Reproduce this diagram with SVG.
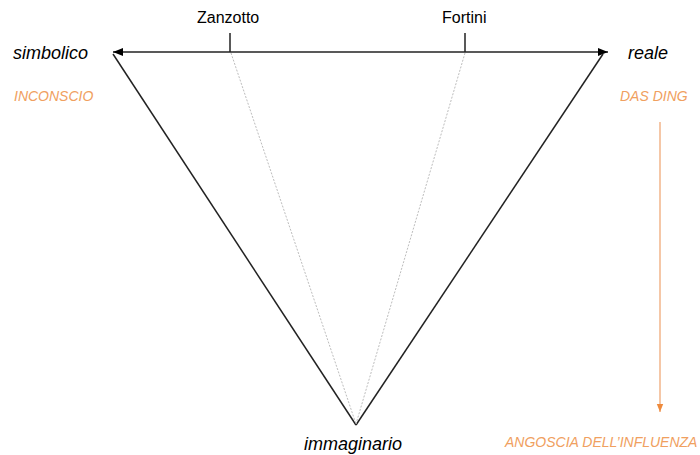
<svg xmlns="http://www.w3.org/2000/svg" width="700" height="455" viewBox="0 0 700 455">
<defs>
<marker id="ah" viewBox="0 0 10 10" refX="10" refY="5" markerWidth="10" markerHeight="10" markerUnits="userSpaceOnUse" orient="auto-start-reverse">
<path d="M0,1 L10,5 L0,9 z" fill="#000"/>
</marker>
<marker id="oh" viewBox="0 0 10 10" refX="10" refY="5" markerWidth="8" markerHeight="8" markerUnits="userSpaceOnUse" orient="auto">
<path d="M0,1 L10,5 L0,9 z" fill="#ee8a3c"/>
</marker>
</defs>
<style>
.lbl{font-family:"Liberation Sans",Arial,sans-serif;font-size:16px;fill:#000}
.it{font-family:"Liberation Sans",Arial,sans-serif;font-size:18px;font-style:italic;fill:#000}
.or{font-family:"Liberation Sans",Arial,sans-serif;font-size:14px;font-style:italic;fill:#f0a060}
.edge{stroke:#222;stroke-width:1.5;fill:none}
.dot{stroke:#bdbdbd;stroke-width:1;stroke-dasharray:2,1.5;fill:none}
</style>
<rect width="700" height="455" fill="#fff"/>
<g id="connectors">
<line class="edge" x1="113" y1="52" x2="608" y2="52" marker-start="url(#ah)" marker-end="url(#ah)"/>
<line class="edge" x1="230" y1="33" x2="230" y2="52"/>
<line class="edge" x1="465" y1="33" x2="465" y2="52"/>
<line class="edge" x1="113" y1="54" x2="356" y2="425"/>
<line class="edge" x1="603" y1="54" x2="356" y2="425"/>
<line class="dot" x1="231" y1="53" x2="356" y2="424"/>
<line class="dot" x1="465" y1="53" x2="356" y2="424"/>
<line x1="660" y1="122" x2="660" y2="412" stroke="#f2b48a" stroke-width="1.5" marker-end="url(#oh)"/>
</g>
<g id="simbolico"><text class="it" x="13" y="59">simbolico</text></g>
<g id="reale"><text class="it" x="628" y="59">reale</text></g>
<g id="immaginario"><text class="it" x="304" y="450">immaginario</text></g>
<g id="zanzotto"><text class="lbl" x="197" y="23">Zanzotto</text></g>
<g id="fortini"><text class="lbl" x="442" y="23">Fortini</text></g>
<g id="inconscio"><text class="or" x="14" y="101">INCONSCIO</text></g>
<g id="dasding"><text class="or" x="620" y="101">DAS DING</text></g>
<g id="angoscia"><text class="or" x="505" y="447">ANGOSCIA DELL’INFLUENZA</text></g>
</svg>
